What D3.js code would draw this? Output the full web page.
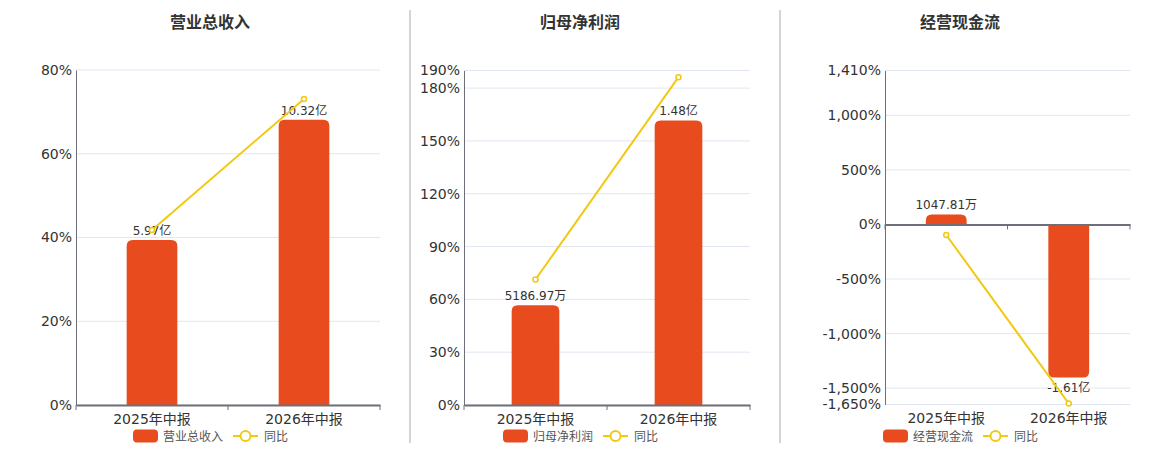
<!DOCTYPE html>
<html>
<head>
<meta charset="utf-8">
<script src="https://cdn.jsdelivr.net/npm/d3@7"></script>
<style>
  body { margin: 0; background: #fff; }
  svg text { font-family: "DejaVu Sans", "Noto Sans CJK SC", sans-serif; }
</style>
</head>
<body>
<div class="chart"></div>
<script>
// data
const categories = ["2025年中报", "2026年中报"];

const revenueTitle = "营业总收入";
const revenue = [5.97, 10.32]; // 亿
const revenueLabels = ["5.97亿", "10.32亿"];
const revenueYoy = [41.8, 73.1]; // %
const revenueTicks = [0, 20, 40, 60, 80];

const profitTitle = "归母净利润";
const profit = [0.518697, 1.48]; // 亿
const profitLabels = ["5186.97万", "1.48亿"];
const profitYoy = [71.3, 186.2];
const profitTicks = [0, 30, 60, 90, 120, 150, 180, 190];

const cashTitle = "经营现金流";
const cash = [0.104781, -1.61]; // 亿
const cashLabels = ["1047.81万", "-1.61亿"];
const cashYoy = [-97, -1641];
const cashTicks = [-1650, -1500, -1000, -500, 0, 500, 1000, 1410];

const yoyName = "同比";

var w = 1160,
	h = 450,
	barColor = "#e84c1e",
	lineColor = "#f2c811",
	textColor = "#333",
	axisColor = "#6e7079",
	gridColor = "#e0e6f1";

// layout of the three panels
const panels = [
	{
		title: revenueTitle, bars: revenue, labels: revenueLabels, yoy: revenueYoy, ticks: revenueTicks,
		cx: 210, left: 76, right: 380, top: 70, bottom: 405,
		yDomain: [0, 80], barDomain: [0, 12.12]
	},
	{
		title: profitTitle, bars: profit, labels: profitLabels, yoy: profitYoy, ticks: profitTicks,
		cx: 580, left: 464, right: 750, top: 70.5, bottom: 405,
		yDomain: [0, 190], barDomain: [0, 1.74]
	},
	{
		title: cashTitle, bars: cash, labels: cashLabels, yoy: cashYoy, ticks: cashTicks,
		cx: 960, left: 885, right: 1130, top: 70.5, bottom: 404.5,
		yDomain: [-1650, 1410], barDomain: [-1.893, 1.618]
	}
];

const svg = d3.select(".chart").append("svg").attr("width", w).attr("height", h);

// separators
[410, 780].forEach((x) => {
	svg.append("line")
		.attr("x1", x).attr("x2", x).attr("y1", 10).attr("y2", 443)
		.attr("stroke", "#aaa").attr("stroke-width", 1);
});

const comma = d3.format(",");
function fmtPct(v) {
	// plain hyphen instead of unicode minus
	return comma(v).replace("\u2212", "-") + "%";
}

function barPath(x, y0, y1, bw, r) {
	// rounded corners on the far end from zero
	if (y1 < y0) {
		var hgt = y0 - y1, rr = Math.min(r, hgt, bw / 2);
		return "M" + x + "," + y0 +
			"V" + (y1 + rr) +
			"Q" + x + "," + y1 + " " + (x + rr) + "," + y1 +
			"H" + (x + bw - rr) +
			"Q" + (x + bw) + "," + y1 + " " + (x + bw) + "," + (y1 + rr) +
			"V" + y0 + "Z";
	} else {
		var hgt2 = y1 - y0, rr2 = Math.min(r, hgt2, bw / 2);
		return "M" + x + "," + y0 +
			"V" + (y1 - rr2) +
			"Q" + x + "," + y1 + " " + (x + rr2) + "," + y1 +
			"H" + (x + bw - rr2) +
			"Q" + (x + bw) + "," + y1 + " " + (x + bw) + "," + (y1 - rr2) +
			"V" + y0 + "Z";
	}
}

panels.forEach((p) => {
	const g = svg.append("g");

	const xScale = d3.scaleBand().domain(categories).range([p.left, p.right]);
	const yScale = d3.scaleLinear().domain(p.yDomain).range([p.bottom, p.top]);
	const barScale = d3.scaleLinear().domain(p.barDomain).range([p.bottom, p.top]);
	const bw = xScale.bandwidth() / 3;

	// title
	g.append("text")
		.attr("x", p.cx).attr("y", 28)
		.attr("text-anchor", "middle")
		.attr("font-size", 16).attr("font-weight", "bold")
		.attr("fill", textColor)
		.text(p.title);

	// grid
	g.selectAll(".grid")
		.data(p.ticks)
		.enter()
		.append("line")
		.attr("x1", p.left).attr("x2", p.right)
		.attr("y1", (d) => yScale(d)).attr("y2", (d) => yScale(d))
		.attr("stroke", gridColor).attr("stroke-width", 1);

	// y axis
	const yAxis = d3.axisLeft(yScale).tickValues(p.ticks).tickSize(0).tickPadding(4).tickFormat(fmtPct);
	const ya = g.append("g").attr("transform", "translate(" + p.left + ",0)").call(yAxis);
	ya.select(".domain").attr("stroke", axisColor).attr("stroke-width", 1);
	ya.selectAll("text").attr("font-size", 14).attr("fill", textColor)
		.attr("font-family", "'DejaVu Sans', sans-serif");

	// bars
	const zeroY = barScale(0);
	g.selectAll(".bar")
		.data(p.bars)
		.enter()
		.append("path")
		.attr("d", (d, i) => barPath(xScale(categories[i]) + bw, zeroY, barScale(d), bw, 6))
		.attr("fill", barColor);

	// bar labels
	g.selectAll(".blabel")
		.data(p.bars)
		.enter()
		.append("text")
		.attr("x", (d, i) => xScale(categories[i]) + xScale.bandwidth() / 2)
		.attr("y", (d) => d >= 0 ? barScale(d) - 5 : barScale(d) + 14)
		.attr("text-anchor", "middle")
		.attr("font-size", 12).attr("fill", textColor)
		.text((d, i) => p.labels[i]);

	// x axis at zero
	const xAxis = d3.axisBottom(xScale).tickSize(0).tickPadding(9);
	const xa = g.append("g").attr("transform", "translate(0," + yScale(0) + ")").call(xAxis);
	xa.select(".domain").attr("stroke", axisColor).attr("stroke-width", 2);
	xa.selectAll("text").attr("font-size", 14).attr("fill", textColor)
		.attr("transform", "translate(0," + (p.bottom - yScale(0)) + ")");
	[p.left, p.left + xScale.bandwidth(), p.right].forEach((x) => {
		xa.append("line").attr("x1", x).attr("x2", x).attr("y1", 0).attr("y2", 5)
			.attr("stroke", axisColor).attr("stroke-width", 1);
	});

	// yoy line
	const line = d3.line()
		.x((d, i) => xScale(categories[i]) + xScale.bandwidth() / 2)
		.y((d) => yScale(d));
	g.append("path")
		.datum(p.yoy)
		.attr("d", line)
		.attr("fill", "none")
		.attr("stroke", lineColor)
		.attr("stroke-width", 2);
	g.selectAll(".dot")
		.data(p.yoy)
		.enter()
		.append("circle")
		.attr("cx", (d, i) => xScale(categories[i]) + xScale.bandwidth() / 2)
		.attr("cy", (d) => yScale(d))
		.attr("r", 2.5)
		.attr("fill", "#fff")
		.attr("stroke", lineColor)
		.attr("stroke-width", 1.5);

	// legend
	const lg = g.append("g").attr("transform", "translate(" + (p.cx - 77) + ",436)");
	lg.append("rect").attr("x", 0).attr("y", -6.5).attr("width", 25).attr("height", 13)
		.attr("rx", 4).attr("fill", barColor);
	lg.append("text").attr("x", 30).attr("y", 4.5).attr("font-size", 12).attr("fill", "#555")
		.text(p.title);
	lg.append("line").attr("x1", 100).attr("x2", 125).attr("y1", 0).attr("y2", 0)
		.attr("stroke", lineColor).attr("stroke-width", 2);
	lg.append("circle").attr("cx", 112.5).attr("cy", 0).attr("r", 5)
		.attr("fill", "#fff").attr("stroke", lineColor).attr("stroke-width", 2);
	lg.append("text").attr("x", 131).attr("y", 4.5).attr("font-size", 12).attr("fill", "#555")
		.text(yoyName);
});
</script>
</body>
</html>
